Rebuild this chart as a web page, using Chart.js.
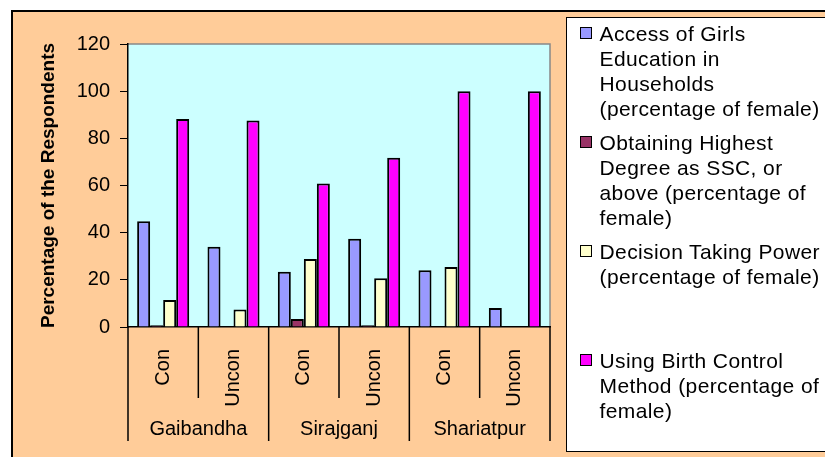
<!DOCTYPE html>
<html>
<head>
<meta charset="utf-8">
<script src="https://cdn.jsdelivr.net/npm/chart.js@4.4.0/dist/chart.umd.min.js"></script>
<style>
html, body { margin: 0; padding: 0; background: #fff; overflow: hidden; }
#wrap { position: relative; width: 825px; height: 457px; overflow: hidden; }
#legend {
    position: absolute; left: 566px; top: 17px; width: 300px; height: 435px;
    background: #fff; border: 1.5px solid #000; box-sizing: border-box; padding-top: 3px;
    font-family: Arial, "Liberation Sans", sans-serif; font-size: 21px; line-height: 25px; color: #000;
}
.item { position: relative; height: 109px; padding-left: 32.5px; white-space: nowrap; letter-spacing: 0.4px; }
.item .box { position: absolute; left: 12.5px; top: 6px; width: 10px; height: 10px; border: 1.2px solid #000; }
</style>
</head>
<body>
<div id="wrap">
    <canvas id="grafico" width="825" height="457"></canvas>
    <div id="legend"></div>
</div>
<script>
// dados do grafico;
var districts = ["Gaibandha", "Sirajganj", "Shariatpur"];
var areas = ["Con", "Uncon", "Con", "Uncon", "Con", "Uncon"];
var yTicks = [0, 20, 40, 60, 80, 100, 120];

var girlsEducation = [44.8, 34, 23.4, 37.4, 24.1, 8.1];
var sscOrAbove = [0.7, 0, 3.4, 0.7, 0, 0];
var decisionPower = [11.4, 7.4, 28.8, 20.7, 25.4, 0];
var birthControl = [88.2, 87.6, 60.8, 71.8, 100, 100];

var seriesNames = [
    ["Access of Girls", "Education in", "Households", "(percentage of female)"],
    ["Obtaining Highest", "Degree as SSC, or", "above (percentage of", "female)"],
    ["Decision Taking Power", "(percentage of female)"],
    ["Using Birth Control", "Method (percentage of", "female)"]
];

Chart.defaults.font.family = 'Arial, "Liberation Sans", sans-serif';
Chart.defaults.color = "#000";

// fundo e moldura;
var fundo = {
    id: "fundo",
    beforeDraw: (chart) => {
        var ctx = chart.ctx, a = chart.chartArea;
        ctx.save();
        ctx.fillStyle = "#fff";
        ctx.fillRect(0, 0, chart.width, chart.height);
        ctx.fillStyle = "#FFCC99";
        ctx.fillRect(11, 10, chart.width, chart.height);
        ctx.strokeStyle = "#000";
        ctx.lineWidth = 2;
        ctx.strokeRect(12, 11, chart.width, chart.height);
        ctx.fillStyle = "#CCFFFF";
        ctx.fillRect(a.left, a.top, a.right - a.left, a.bottom - a.top);
        ctx.strokeStyle = "#888";
        ctx.lineWidth = 1.5;
        ctx.beginPath();
        ctx.moveTo(a.left, a.top);
        ctx.lineTo(a.right, a.top);
        ctx.lineTo(a.right, a.bottom);
        ctx.stroke();
        ctx.restore();
    }
};

// eixo x em dois niveis;
var eixoGrupos = {
    id: "eixoGrupos",
    afterDraw: (chart) => {
        var ctx = chart.ctx, xs = chart.scales.x;
        var step = xs.getPixelForValue(1) - xs.getPixelForValue(0);
        var porGrupo = areas.length / districts.length;
        ctx.save();
        ctx.strokeStyle = "#000";
        ctx.lineWidth = 1.5;
        for (var i = 0; i <= areas.length; i++) {
            var x = xs.getPixelForValue(0) - step / 2 + i * step;
            var len = i % porGrupo === 0 ? 114 : 71;
            ctx.beginPath();
            ctx.moveTo(x, xs.top);
            ctx.lineTo(x, xs.top + len);
            ctx.stroke();
        }
        ctx.fillStyle = "#000";
        ctx.font = '20px Arial, "Liberation Sans", sans-serif';
        ctx.textAlign = "center";
        ctx.textBaseline = "alphabetic";
        districts.forEach((d, j) => {
            var cx = (xs.getPixelForValue(j * porGrupo) + xs.getPixelForValue(j * porGrupo + porGrupo - 1)) / 2;
            ctx.fillText(d, cx, xs.top + 108);
        });
        ctx.restore();
    }
};

function serie(i, dados, cor) {
    return {
        label: seriesNames[i].join(" "),
        data: dados,
        backgroundColor: cor,
        borderColor: "#000",
        borderWidth: 2,
        categoryPercentage: 0.74,
        barPercentage: 1
    };
}

var grafico = new Chart(document.getElementById("grafico"), {
    type: "bar",
    data: {
        labels: areas,
        datasets: [
            serie(0, girlsEducation, "#9999FF"),
            serie(1, sscOrAbove, "#993366"),
            serie(2, decisionPower, "#FFFFCC"),
            serie(3, birthControl, "#FF00FF")
        ]
    },
    options: {
        responsive: false,
        animation: false,
        layout: { padding: { left: 12, top: 44, right: 275, bottom: 0 } },
        plugins: {
            legend: { display: false },
            tooltip: { enabled: false }
        },
        scales: {
            x: {
                afterFit: (s) => { s.height = 130; },
                grid: { display: false },
                border: { display: true, color: "#000", width: 1.5 },
                ticks: {
                    font: { size: 20 },
                    minRotation: 90,
                    maxRotation: 90,
                    padding: 14,
                    autoSkip: false
                }
            },
            y: {
                min: 0,
                max: 120,
                afterFit: (s) => { s.width = 116; },
                afterBuildTicks: (s) => { s.ticks = yTicks.map((v) => ({ value: v })); },
                grid: { drawOnChartArea: false, color: "#000", tickLength: 8 },
                border: { display: true, color: "#000", width: 1.5 },
                ticks: { font: { size: 20 }, padding: 10 },
                title: {
                    display: true,
                    text: "Percentage of the Respondents",
                    font: { size: 19, weight: "bold" },
                    padding: { top: 25, bottom: 0 }
                }
            }
        }
    },
    plugins: [fundo, eixoGrupos]
});

// legenda em html;
var legenda = document.getElementById("legend");
grafico.data.datasets.forEach((ds, i) => {
    var item = document.createElement("div");
    item.className = "item";
    var box = document.createElement("span");
    box.className = "box";
    box.style.background = ds.backgroundColor;
    item.appendChild(box);
    seriesNames[i].forEach((linha) => {
        var l = document.createElement("div");
        l.textContent = linha;
        item.appendChild(l);
    });
    legenda.appendChild(item);
});
</script>
</body>
</html>
